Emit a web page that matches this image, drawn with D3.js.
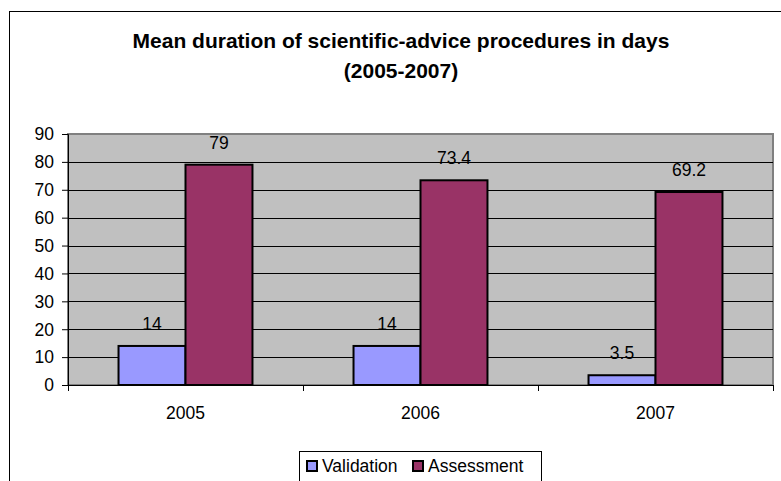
<!DOCTYPE html>
<html>
<head>
<meta charset="utf-8">
<script src="https://cdn.jsdelivr.net/npm/d3@7"></script>
<style>
	body { margin: 0; background: #fff; }
	text { font-family: Arial, 'Liberation Sans', sans-serif; fill: #000; }
</style>
</head>
<body>
<svg id="chart"></svg>
<script>
const years = ['2005', '2006', '2007']
const seriesNames = ['Validation', 'Assessment']
const validation = [14, 14, 3.5]
const assessment = [79, 73.4, 69.2]
const yTicks = [0, 10, 20, 30, 40, 50, 60, 70, 80, 90]
const colors = ['#9999ff', '#993366']

function barChart() {
	const width = 781
	const height = 481
	const fs = 17.5

	const plot = { left: 68, right: 773, top: 134, bottom: 385 }

	const svg = d3.select('#chart').attr('width', width).attr('height', height)

	const label = (x, y, str, size, anchor, weight) =>
		svg
			.append('text')
			.attr('x', x)
			.attr('y', y)
			.attr('text-anchor', anchor || 'middle')
			.attr('font-size', size)
			.attr('font-weight', weight || 'normal')
			.text(str)

	// outer chart border
	svg
		.append('rect')
		.attr('x', 9.5)
		.attr('y', 11.5)
		.attr('width', 800)
		.attr('height', 500)
		.attr('fill', 'none')
		.attr('stroke', '#000')

	label(401, 48, 'Mean duration of scientific-advice procedures in days', 21, 'middle', 'bold')
	label(401, 78, '(2005-2007)', 21, 'middle', 'bold')

	const data = years.map((year, i) => ({
		year,
		values: [validation[i], assessment[i]]
	}))

	const x0 = d3
		.scaleBand()
		.domain(years)
		.range([plot.left, plot.right])
		.paddingInner(0.43)
		.paddingOuter(0.215)
	const x1 = d3.scaleBand().domain([0, 1]).range([0, x0.bandwidth()])
	const yScale = d3.scaleLinear().domain([0, 90]).range([plot.bottom, plot.top])
	const edge = d3.scaleLinear().domain([0, years.length]).range([plot.left, plot.right])

	// plot area
	svg
		.append('rect')
		.attr('x', plot.left)
		.attr('y', plot.top)
		.attr('width', plot.right - plot.left)
		.attr('height', plot.bottom - plot.top)
		.attr('fill', '#c0c0c0')
		.attr('stroke', '#808080')
		.attr('stroke-width', 2)

	svg
		.append('g')
		.selectAll('line')
		.data(yTicks.filter(d => d > 0 && d < 90))
		.join('line')
		.attr('x1', plot.left)
		.attr('x2', plot.right)
		.attr('y1', d => Math.round(yScale(d)) + 0.5)
		.attr('y2', d => Math.round(yScale(d)) + 0.5)
		.attr('stroke', '#000')

	const groups = svg
		.append('g')
		.selectAll('g')
		.data(data)
		.join('g')
		.attr('transform', d => `translate(${x0(d.year)},0)`)

	groups
		.selectAll('rect')
		.data(d => d.values)
		.join('rect')
		.attr('x', (d, i) => x1(i))
		.attr('y', d => yScale(d))
		.attr('width', x1.bandwidth())
		.attr('height', d => plot.bottom - yScale(d))
		.attr('fill', (d, i) => colors[i])
		.attr('stroke', '#000')
		.attr('stroke-width', 2)

	data.forEach(d => {
		d.values.forEach((v, i) => {
			label(x0(d.year) + x1(i) + x1.bandwidth() / 2, yScale(v) - 16, String(v), fs)
		})
	})

	// y axis
	const yAxis = svg
		.append('g')
		.attr('transform', `translate(${plot.left},0)`)
		.call(d3.axisLeft(yScale).tickValues(yTicks).tickSize(6).tickFormat(''))
	yAxis.selectAll('path, line').attr('stroke', '#000')
	yTicks.forEach(t => label(54, yScale(t) + 6.3, String(t), fs, 'end'))

	// x axis
	const xAxis = svg
		.append('g')
		.attr('transform', `translate(0,${plot.bottom})`)
		.call(d3.axisBottom(edge).tickValues(d3.range(years.length + 1)).tickSize(6).tickFormat(''))
	xAxis.selectAll('path, line').attr('stroke', '#000')
	years.forEach(yr => label(x0(yr) + x0.bandwidth() / 2, 419, yr, fs))

	// legend
	const legend = svg.append('g')
	legend
		.append('rect')
		.attr('x', 299.5)
		.attr('y', 451.5)
		.attr('width', 242)
		.attr('height', 40)
		.attr('fill', '#fff')
		.attr('stroke', '#000')
	const legendX = [307, 413]
	seriesNames.forEach((name, i) => {
		legend
			.append('rect')
			.attr('x', legendX[i])
			.attr('y', 461)
			.attr('width', 10)
			.attr('height', 10)
			.attr('fill', colors[i])
			.attr('stroke', '#000')
			.attr('stroke-width', 2)
		label(legendX[i] + 15, 472, name, fs, 'start')
	})
}

barChart()
</script>
</body>
</html>
